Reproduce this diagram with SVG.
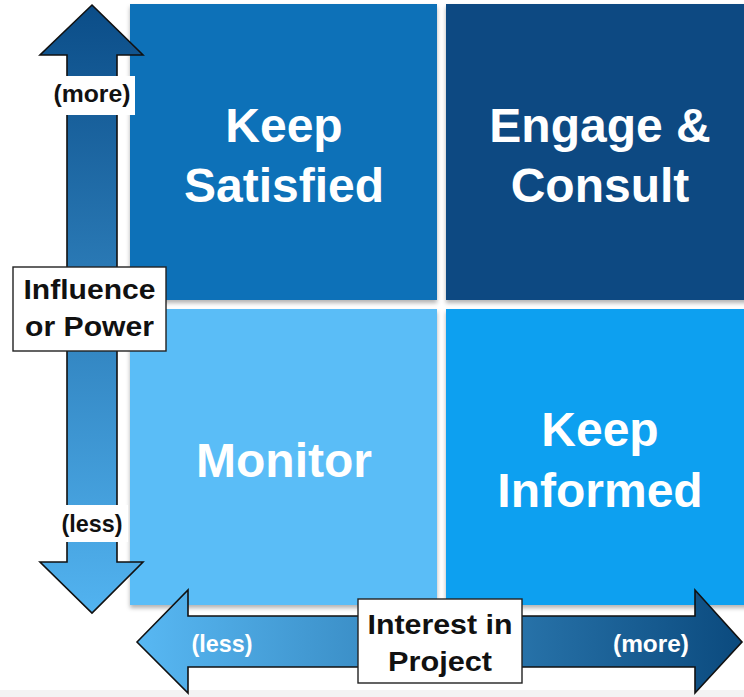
<svg xmlns="http://www.w3.org/2000/svg" width="744" height="697" viewBox="0 0 744 697">
  <defs>
    <linearGradient id="gV" x1="0" y1="0" x2="0" y2="1">
      <stop offset="0" stop-color="#0b4d88"/>
      <stop offset="1" stop-color="#52b3f0"/>
    </linearGradient>
    <linearGradient id="gH" x1="0" y1="0" x2="1" y2="0">
      <stop offset="0" stop-color="#58b8f3"/>
      <stop offset="1" stop-color="#0b4a7e"/>
    </linearGradient>
    <filter id="sh" x="-5%" y="-5%" width="110%" height="115%">
      <feDropShadow dx="0" dy="3" stdDeviation="2" flood-color="#000" flood-opacity="0.3"/>
    </filter>
    <style>
      .q { filter: url(#sh); }
      .qt { font-family: "Liberation Sans", Arial, sans-serif; font-weight: bold; font-size: 48px; fill: #fff; text-anchor: middle; }
      .lbl { font-family: "Liberation Sans", Arial, sans-serif; font-weight: bold; fill: #111; text-anchor: middle; }
      .wl { font-family: "Liberation Sans", Arial, sans-serif; font-weight: bold; font-size: 24px; fill: #fff; text-anchor: middle; }
      .arrow { stroke: #111; stroke-width: 1.6; stroke-linejoin: miter; }
      .box { fill: #fff; stroke: #222; stroke-width: 1.4; }
    </style>
  </defs>
  <rect x="0" y="0" width="744" height="697" fill="#fff"/>
  <rect x="0" y="690" width="744" height="7" fill="#f3f3f3"/>

  <g id="keep-satisfied">
    <rect class="q" x="130" y="4" width="307" height="296" fill="#0a71b8"/>
    <text class="qt" x="284" y="142">Keep</text>
    <text class="qt" x="284" y="202">Satisfied</text>
  </g>
  <g id="engage-consult">
    <rect class="q" x="446" y="4" width="310" height="296" fill="#0b4a82"/>
    <text class="qt" x="600" y="142">Engage &amp;</text>
    <text class="qt" x="600" y="202">Consult</text>
  </g>
  <g id="monitor">
    <rect class="q" x="130" y="309" width="307" height="296" fill="#5abdf7"/>
    <text class="qt" x="284" y="477">Monitor</text>
  </g>
  <g id="keep-informed">
    <rect class="q" x="446" y="309" width="310" height="296" fill="#0aa0f0"/>
    <text class="qt" x="600" y="446">Keep</text>
    <text class="qt" x="600" y="507">Informed</text>
  </g>

  <g id="connectors">
    <polygon class="arrow" fill="url(#gV)" points="92,5 143,55 117,55 117,562 143,562 92,613 40,562 67,562 67,55 40,55"/>
    <polygon class="arrow" fill="url(#gH)" points="137,642 188,590 188,616 695,616 695,590 742,642 695,693 695,667 188,667 188,693"/>
  </g>

  <g id="more-influence">
    <rect x="50" y="76" width="85" height="39" fill="#fff"/>
    <text class="lbl" x="92" y="102" font-size="24" textLength="77" lengthAdjust="spacingAndGlyphs">(more)</text>
  </g>
  <g id="less-influence">
    <rect x="58" y="505" width="70" height="37" fill="#fff"/>
    <text class="lbl" x="92" y="532" font-size="24" textLength="61" lengthAdjust="spacingAndGlyphs">(less)</text>
  </g>
  <g id="influence-axis-label">
    <rect class="box" x="13" y="267" width="153" height="84"/>
    <text class="lbl" x="89.5" y="299" font-size="27" textLength="132" lengthAdjust="spacingAndGlyphs">Influence</text>
    <text class="lbl" x="89.5" y="336" font-size="27" textLength="129" lengthAdjust="spacingAndGlyphs">or Power</text>
  </g>
  <g id="less-interest">
    <text class="wl" x="222" y="652" textLength="61" lengthAdjust="spacingAndGlyphs">(less)</text>
  </g>
  <g id="more-interest">
    <text class="wl" x="651" y="652" textLength="76" lengthAdjust="spacingAndGlyphs">(more)</text>
  </g>
  <g id="interest-axis-label">
    <rect class="box" x="358" y="599" width="164" height="84"/>
    <text class="lbl" x="440" y="634" font-size="27" textLength="145" lengthAdjust="spacingAndGlyphs">Interest in</text>
    <text class="lbl" x="440" y="671" font-size="27" textLength="104" lengthAdjust="spacingAndGlyphs">Project</text>
  </g>
</svg>
